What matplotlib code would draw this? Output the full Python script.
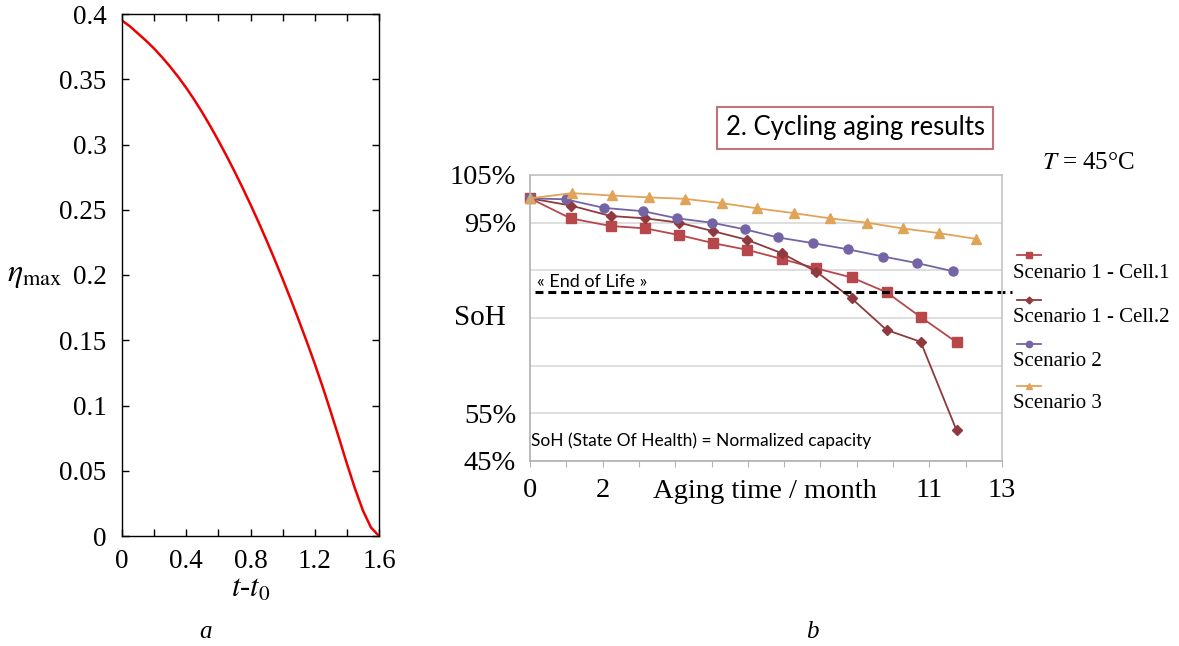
import matplotlib
matplotlib.use("Agg")
import matplotlib.pyplot as plt
from matplotlib.lines import Line2D

plt.rcParams["font.family"] = ["Liberation Serif", "DejaVu Serif"]
plt.rcParams["mathtext.fontset"] = "stix"

# panel a: eta_max against t - t0
t_vals = [0, 0.05, 0.1, 0.15, 0.2, 0.25, 0.3, 0.35, 0.4, 0.45, 0.5, 0.55,
          0.6, 0.65, 0.7, 0.75, 0.8, 0.85, 0.9, 0.95, 1.0, 1.05, 1.1, 1.15,
          1.2, 1.25, 1.3, 1.35, 1.4, 1.45, 1.5, 1.55, 1.6]
eta_vals = [0.395, 0.3905, 0.385, 0.3795, 0.3735, 0.3668, 0.3596, 0.3518,
            0.3434, 0.3343, 0.3245, 0.314, 0.303, 0.2915, 0.2795, 0.267, 0.254,
            0.2405, 0.2265, 0.212, 0.197, 0.1815, 0.1655, 0.149, 0.132, 0.114,
            0.095, 0.0755, 0.0555, 0.0365, 0.0195, 0.0065, 0.0]
a_xticks = [0, 0.4, 0.8, 1.2, 1.6]
a_xtick_labels = ["0", "0.4", "0.8", "1.2", "1.6"]
a_yticks = [0, 0.05, 0.1, 0.15, 0.2, 0.25, 0.3, 0.35, 0.4]
a_ytick_labels = ["0", "0.05", "0.1", "0.15", "0.2", "0.25", "0.3", "0.35", "0.4"]

# panel b: SoH (%) against aging time (months)
months_s1 = [0, 1.12, 2.22, 3.18, 4.11, 5.05, 5.98, 6.93, 7.89, 8.86, 9.82, 10.76, 11.75]
soh_cell1 = [100.1, 95.9, 94.3, 93.8, 92.4, 90.7, 89.3, 87.4, 85.4, 83.5, 80.4, 75.2, 69.9]
soh_cell2 = [100.1, 98.6, 96.4, 95.9, 95.0, 93.2, 91.4, 88.6, 84.7, 79.1, 72.5, 70.0, 51.4]
months_s2 = [0, 0.98, 2.04, 3.12, 4.06, 5.0, 5.92, 6.83, 7.8, 8.76, 9.73, 10.67, 11.66]
soh_s2 = [100.1, 99.9, 98.1, 97.4, 95.9, 95.0, 93.6, 91.9, 90.7, 89.4, 87.9, 86.5, 84.8]
months_s3 = [0, 1.15, 2.25, 3.28, 4.26, 5.28, 6.26, 7.27, 8.26, 9.27, 10.26, 11.27, 12.28]
soh_s3 = [100.1, 101.2, 100.7, 100.3, 100.0, 99.1, 98.0, 97.0, 95.9, 95.0, 93.8, 92.8, 91.6]
end_of_life = 80.4
b_yticks = [45, 55, 65, 75, 85, 95, 105]
b_ytick_labels = ["45%", "55%", "", "", "", "95%", "105%"]
b_xticks = list(range(14))
b_xtick_labels = ["0", "", "2", "", "", "", "", "", "", "", "", "11", "", "13"]

series_names = ["Scenario 1 - Cell.1", "Scenario 1 - Cell.2", "Scenario 2", "Scenario 3"]
series_colors = ["#b8474b", "#8f3a3e", "#7464a6", "#e0a458"]
series_markers = ["s", "D", "o", "^"]
series_msize = [6.5, 5, 6.5, 7]

fig = plt.figure(figsize=(11.79, 6.46), dpi=100)

# ---- panel a
ax = fig.add_axes([122 / 1179, 1 - 536 / 646, 257 / 1179, 522 / 646])
ax.plot(t_vals, eta_vals, color="#ee0000", lw=1.8)
ax.set_xlim(0, 1.6)
ax.set_ylim(0, 0.4)
ax.set_xticks(a_xticks)
ax.set_xticklabels(a_xtick_labels)
ax.set_xticks([0.2, 0.6, 1.0, 1.4], minor=True)
ax.set_yticks(a_yticks)
ax.set_yticklabels(a_ytick_labels)
ax.tick_params(which="both", direction="in", top=True, right=True,
               length=5, width=1, labelsize=19.5, pad=11)
ax.tick_params(axis="x", pad=9)
for sp in ax.spines.values():
    sp.set_linewidth(1)
ax.set_xlabel(r"$t$-$t_{\mathit{0}}$", fontsize=22, labelpad=1)
ax.set_ylabel(r"$\eta_{\rm max}$", fontsize=23, rotation=0, labelpad=18, va="center")

# ---- panel b
ax2 = fig.add_axes([530 / 1179, 1 - 461 / 646, 472 / 1179, 286 / 646])
ax2.set_xlim(0, 13)
ax2.set_ylim(45, 105)
ax2.set_yticks(b_yticks)
ax2.set_yticklabels(b_ytick_labels)
ax2.set_xticks(b_xticks)
ax2.set_xticklabels(b_xtick_labels)
ax2.grid(axis="y", color="#d9d9d9", lw=1.2)
ax2.set_axisbelow(True)
ax2.tick_params(axis="y", length=0, labelsize=20.5, pad=10)
ax2.tick_params(axis="x", length=4, color="#b5b5b5", labelsize=20.5, pad=8)
for name, sp in ax2.spines.items():
    sp.set_color("#c4c4c4")
    sp.set_linewidth(1.2)
ax2.spines["left"].set_color("#b0b0b0")
ax2.spines["bottom"].set_color("#b0b0b0")
ax2.text(-0.051, 75, "SoH", fontsize=21, ha="right", va="center",
         transform=ax2.get_yaxis_transform())

xs = [months_s1, months_s1, months_s2, months_s3]
ys = [soh_cell1, soh_cell2, soh_s2, soh_s3]
for x, y, c, m, ms in zip(xs, ys, series_colors, series_markers, series_msize):
    ax2.plot(x, y, color=c, lw=1.3, marker=m, markersize=ms, clip_on=False)

eol = ax2.plot([0.14, 13.28], [end_of_life, end_of_life], color="black",
               lw=2.2, clip_on=False)[0]
eol.set_dashes((2.6, 1.6))
ax2.text(0.2, 82.6, "« End of Life »", family="Lato", fontsize=13, va="center")
ax2.text(0.02, 49.2, "SoH (State Of Health) = Normalized capacity",
         family="Lato", fontsize=12.5, va="center")
ax2.text(6.47, 38.6, "Aging time / month", fontsize=20.5, ha="center", va="center")

# legend: sample line above each label
leg_sample_y = [255, 300, 344, 386]
leg_text_y = [273, 317, 361, 404]
for name, c, m, ms, sy, ty in zip(series_names, series_colors, series_markers,
                                  series_msize, leg_sample_y, leg_text_y):
    fig.add_artist(Line2D([1017 / 1179, 1029 / 1179, 1041 / 1179],
                          [1 - sy / 646] * 3, color=c, lw=1.3, marker=m,
                          markersize=ms * 0.7, markevery=[1]))
    fig.text(1013 / 1179, 1 - ty / 646, name, fontsize=15, va="center")

fig.text(855 / 1179, 1 - 128 / 646, "2. Cycling aging results", family="Lato",
         fontsize=18.5, ha="center", va="center",
         bbox=dict(boxstyle="square,pad=0.33", fc="white", ec="#c0737a", lw=1.5))
fig.text(1042 / 1179, 1 - 163 / 646, r"$T$ = 45°C", fontsize=18, va="center")

fig.text(205 / 1179, 1 - 632 / 646, "a", fontsize=18, style="italic",
         ha="center", va="center")
fig.text(812 / 1179, 1 - 632 / 646, "b", fontsize=18, style="italic",
         ha="center", va="center")

fig.savefig("out.png", dpi=100)
